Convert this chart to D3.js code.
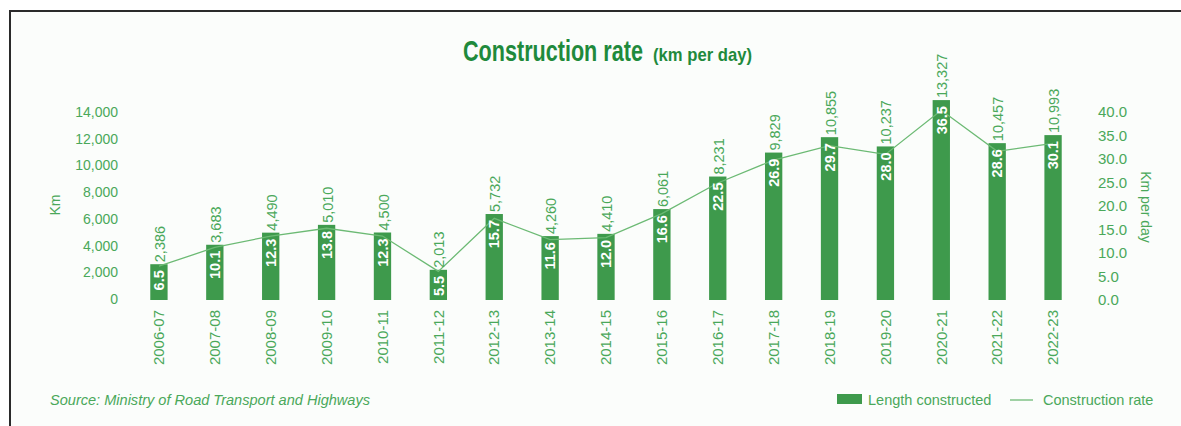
<!DOCTYPE html>
<html><head><meta charset="utf-8">
<script src="https://cdn.jsdelivr.net/npm/d3@7"></script>
<style>
html,body{margin:0;padding:0;background:#fff;}
svg{display:block;}
text{font-family:"Liberation Sans",Arial,sans-serif;}
</style></head>
<body>
<svg id="chart" width="1181" height="426"></svg>
<script>
const categories = ["2006-07","2007-08","2008-09","2009-10","2010-11","2011-12","2012-13","2013-14","2014-15","2015-16","2016-17","2017-18","2018-19","2019-20","2020-21","2021-22","2022-23"];
const lengthConstructed = [2386,3683,4490,5010,4500,2013,5732,4260,4410,6061,8231,9829,10855,10237,13327,10457,10993];
const constructionRate = [6.5,10.1,12.3,13.8,12.3,5.5,15.7,11.6,12.0,16.6,22.5,26.9,29.7,28.0,36.5,28.6,30.1];
const leftTicks = [0,2000,4000,6000,8000,10000,12000,14000];
const rightTicks = [0,5,10,15,20,25,30,35,40];

const GREEN_BAR = "#3e9a4c";
const GREEN_TXT = "#4aa85a";
const GREEN_LINE = "#6cba74";

const svg = d3.select("#chart");
svg.append("rect").attr("x",0).attr("y",0).attr("width",1181).attr("height",426).attr("fill","#ffffff");
svg.append("rect").attr("x",10).attr("y",11).attr("width",1181).attr("height",426).attr("fill","#fbfdfb")
  .attr("stroke","#2a2a2a").attr("stroke-width",2);

const x = d3.scaleBand().domain(categories).range([131,1081]).paddingInner(0.69).paddingOuter(0.345);
// axis tick scales (as labelled in the reference)
const yLeftAxis = d3.scaleLinear().domain([0,14000]).range([299,112]);
const yRightAxis = d3.scaleLinear().domain([0,40]).range([300,112]);
// scales used to draw marks (reference's marks are drawn slightly taller than its labels)
const yBar = d3.scaleLinear().domain([0,14000]).range([300,90]);
const yRate = d3.scaleLinear().domain([0,40]).range([300,92]);

// Title (condensed by horizontal scaling)
function condensed(txt, x0, y0, size, targetW){
  const t = svg.append("text").attr("x",0).attr("y",0).attr("fill","#1f8a3c")
    .attr("font-weight","bold").attr("font-size",size).text(txt);
  const w = t.node().getComputedTextLength();
  t.attr("transform",`translate(${x0},${y0}) scale(${targetW/w},1)`);
}
condensed("Construction rate", 463, 61, 30, 180);
condensed("(km per day)", 653, 61, 18, 99);

// Left axis
const gL = svg.append("g").attr("transform","translate(118,0)")
  .call(d3.axisLeft(yLeftAxis).tickValues(leftTicks).tickSize(0).tickPadding(0).tickFormat(d3.format(",")));
gL.select(".domain").remove();
gL.selectAll("text").attr("fill",GREEN_TXT).attr("font-size",14).attr("font-family","Liberation Sans, Arial, sans-serif");

// Right axis
const gR = svg.append("g").attr("transform","translate(1098,0)")
  .call(d3.axisRight(yRightAxis).tickValues(rightTicks).tickSize(0).tickPadding(0).tickFormat(d3.format(".1f")));
gR.select(".domain").remove();
gR.selectAll("text").attr("fill",GREEN_TXT).attr("font-size",15).attr("font-family","Liberation Sans, Arial, sans-serif");

// Axis titles
svg.append("text").attr("transform","translate(60,205) rotate(-90)").attr("text-anchor","middle")
  .attr("fill",GREEN_TXT).attr("font-size",14).text("Km");
svg.append("text").attr("transform","translate(1141,207) rotate(90)").attr("text-anchor","middle")
  .attr("fill",GREEN_TXT).attr("font-size",14).text("Km per day");

// Bars
svg.append("g").selectAll("rect").data(categories).join("rect")
  .attr("x",d=>x(d)).attr("width",x.bandwidth())
  .attr("y",(d,i)=>yBar(lengthConstructed[i]))
  .attr("height",(d,i)=>yBar(0)-yBar(lengthConstructed[i]))
  .attr("fill",GREEN_BAR);

// Line
const line = d3.line().x((d,i)=>x(categories[i])+x.bandwidth()/2).y(d=>yRate(d));
svg.append("path").datum(constructionRate).attr("d",line)
  .attr("fill","none").attr("stroke",GREEN_LINE).attr("stroke-width",1.3);

// Value labels above bars
svg.append("g").selectAll("text").data(categories).join("text")
  .attr("transform",(d,i)=>`translate(${x(d)+x.bandwidth()/2+1},${yBar(lengthConstructed[i])-2}) rotate(-90)`)
  .attr("dy","0.35em").attr("text-anchor","start")
  .attr("fill",GREEN_TXT).attr("font-size",14.5)
  .text((d,i)=>d3.format(",")(lengthConstructed[i]));

// Rate labels inside bars
svg.append("g").selectAll("text").data(categories).join("text")
  .attr("transform",(d,i)=>`translate(${x(d)+x.bandwidth()/2},${yBar(lengthConstructed[i])+6}) rotate(-90)`)
  .attr("dy","0.36em").attr("text-anchor","end")
  .attr("fill","#ffffff").attr("font-size",14.5).attr("font-weight","bold")
  .text((d,i)=>constructionRate[i].toFixed(1));

// Category labels
const gX = svg.append("g").attr("transform","translate(0,300)")
  .call(d3.axisBottom(x).tickSize(0).tickPadding(0));
gX.select(".domain").remove();
gX.selectAll("text")
  .attr("transform","rotate(-90)").attr("x",-10).attr("y",0).attr("dy","0.35em")
  .attr("text-anchor","end").attr("fill",GREEN_TXT).attr("font-size",15)
  .attr("font-family","Liberation Sans, Arial, sans-serif");

// Source
svg.append("text").attr("x",50).attr("y",405).attr("fill",GREEN_TXT).attr("font-size",14)
  .attr("font-style","italic").attr("textLength",320).attr("lengthAdjust","spacingAndGlyphs")
  .text("Source: Ministry of Road Transport and Highways");

// Legend
svg.append("rect").attr("x",837).attr("y",394).attr("width",25).attr("height",10).attr("fill",GREEN_BAR);
svg.append("text").attr("x",868).attr("y",405).attr("fill",GREEN_TXT).attr("font-size",14.5).text("Length constructed");
svg.append("line").attr("x1",1010).attr("x2",1033).attr("y1",400).attr("y2",400).attr("stroke",GREEN_LINE).attr("stroke-width",1.3);
svg.append("text").attr("x",1043).attr("y",405).attr("fill",GREEN_TXT).attr("font-size",14.5).text("Construction rate");
</script>
</body></html>
